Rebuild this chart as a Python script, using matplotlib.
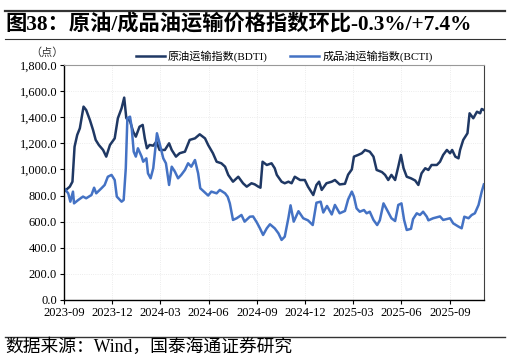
import numpy as np
import pandas as pd
import matplotlib
matplotlib.use("Agg")
import matplotlib.pyplot as plt
import matplotlib.dates as mdates
from matplotlib.ticker import FuncFormatter, MultipleLocator

plt.rcParams['font.family'] = ['Liberation Serif', 'Noto Sans CJK SC']

title = "图38：原油/成品油运输价格指数环比-0.3%/+7.4%"
source = "数据来源：Wind，国泰海通证券研究"
unit = "（点）"
bdti_name = "原油运输指数(BDTI)"
bcti_name = "成品油运输指数(BCTI)"

bdti_dates = [
    "2023-09-01", "2023-09-12", "2023-09-17", "2023-09-21", "2023-09-26", "2023-10-01",
    "2023-10-08", "2023-10-13", "2023-10-20", "2023-10-26", "2023-10-31", "2023-11-06",
    "2023-11-14", "2023-11-20", "2023-11-27", "2023-12-06", "2023-12-12", "2023-12-19",
    "2023-12-24", "2023-12-28", "2024-01-04", "2024-01-10", "2024-01-15", "2024-01-22",
    "2024-01-28", "2024-02-01", "2024-02-05", "2024-02-10", "2024-02-17", "2024-02-23",
    "2024-02-29", "2024-03-10", "2024-03-18", "2024-03-23", "2024-03-31", "2024-04-07",
    "2024-04-17", "2024-04-26", "2024-05-06", "2024-05-15", "2024-05-25", "2024-05-31",
    "2024-06-09", "2024-06-16", "2024-06-25", "2024-07-02", "2024-07-08", "2024-07-17",
    "2024-07-27", "2024-08-05", "2024-08-12", "2024-08-21", "2024-08-27", "2024-09-03",
    "2024-09-07", "2024-09-11", "2024-09-19", "2024-09-28", "2024-10-04", "2024-10-08",
    "2024-10-17", "2024-10-23", "2024-10-30", "2024-11-05", "2024-11-11", "2024-11-21",
    "2024-11-30", "2024-12-06", "2024-12-16", "2024-12-22", "2024-12-27", "2025-01-01",
    "2025-01-10", "2025-01-20", "2025-01-26", "2025-02-04", "2025-02-14", "2025-02-20",
    "2025-02-27", "2025-03-03", "2025-03-11", "2025-03-18", "2025-03-24", "2025-04-02",
    "2025-04-09", "2025-04-15", "2025-04-25", "2025-05-01", "2025-05-07", "2025-05-13",
    "2025-05-20", "2025-05-26", "2025-05-31", "2025-06-05", "2025-06-11", "2025-06-19",
    "2025-06-27", "2025-07-03", "2025-07-09", "2025-07-16", "2025-07-22", "2025-07-28",
    "2025-08-07", "2025-08-13", "2025-08-19", "2025-08-26", "2025-09-01", "2025-09-05",
    "2025-09-11", "2025-09-17", "2025-09-20", "2025-09-26", "2025-10-04", "2025-10-08",
    "2025-10-15", "2025-10-22", "2025-10-28", "2025-10-31", "2025-11-04",
]
bdti = [
    830, 868, 906, 1174, 1264, 1315,
    1481, 1455, 1379, 1302, 1226, 1187,
    1149, 1098, 1187, 1238, 1392, 1468,
    1550, 1392, 1370, 1289, 1251, 1327,
    1341, 1238, 1162, 1187, 1182, 1213,
    1149, 1149, 1200, 1149, 1098, 1124,
    1136, 1226, 1238, 1269, 1238, 1187,
    1124, 1059, 1047, 1021, 958, 906,
    944, 894, 868, 894, 886, 868,
    860, 1059, 1034, 1047, 1009, 958,
    906, 894, 906, 894, 944, 919,
    919, 868, 804, 881, 906, 843,
    894, 906, 919, 885, 890, 960,
    1000, 1098, 1111, 1124, 1149, 1136,
    1098, 996, 980, 958, 919, 958,
    919, 1021, 1111, 1009, 944, 932,
    915, 881, 970, 1009, 996, 1034,
    1034, 1059, 1111, 1149, 1124, 1149,
    1098, 1085, 1149, 1226, 1277, 1430,
    1392, 1442, 1430, 1463, 1455,
]

bcti_dates = [
    "2023-09-01", "2023-09-09", "2023-09-13", "2023-09-18", "2023-09-20", "2023-09-28",
    "2023-10-07", "2023-10-13", "2023-10-23", "2023-10-28", "2023-11-01", "2023-11-11",
    "2023-11-17", "2023-11-23", "2023-11-30", "2023-12-06", "2023-12-10", "2023-12-19",
    "2023-12-23", "2023-12-27", "2023-12-30", "2024-01-04", "2024-01-07", "2024-01-11",
    "2024-01-15", "2024-01-19", "2024-01-26", "2024-01-29", "2024-02-04", "2024-02-07",
    "2024-02-12", "2024-02-17", "2024-02-24", "2024-02-29", "2024-03-07", "2024-03-12",
    "2024-03-18", "2024-03-23", "2024-03-29", "2024-04-04", "2024-04-10", "2024-04-17",
    "2024-04-23", "2024-04-29", "2024-05-06", "2024-05-12", "2024-05-16", "2024-05-23",
    "2024-05-31", "2024-06-06", "2024-06-16", "2024-06-22", "2024-07-02", "2024-07-07",
    "2024-07-11", "2024-07-17", "2024-07-24", "2024-08-02", "2024-08-08", "2024-08-18",
    "2024-08-24", "2024-08-31", "2024-09-06", "2024-09-12", "2024-09-19", "2024-09-25",
    "2024-10-04", "2024-10-11", "2024-10-17", "2024-10-23", "2024-10-30", "2024-11-03",
    "2024-11-09", "2024-11-18", "2024-11-27", "2024-12-06", "2024-12-15", "2024-12-22",
    "2024-12-30", "2025-01-04", "2025-01-11", "2025-01-20", "2025-01-26", "2025-02-04",
    "2025-02-14", "2025-02-20", "2025-02-27", "2025-03-03", "2025-03-08", "2025-03-14",
    "2025-03-22", "2025-03-27", "2025-04-02", "2025-04-09", "2025-04-16", "2025-04-21",
    "2025-04-28", "2025-05-04", "2025-05-13", "2025-05-20", "2025-05-26", "2025-06-01",
    "2025-06-06", "2025-06-11", "2025-06-19", "2025-06-23", "2025-06-30", "2025-07-06",
    "2025-07-12", "2025-07-19", "2025-07-22", "2025-07-31", "2025-08-13", "2025-08-19",
    "2025-09-01", "2025-09-07", "2025-09-17", "2025-09-23", "2025-09-28", "2025-10-06",
    "2025-10-12", "2025-10-18", "2025-10-25", "2025-10-31", "2025-11-04",
]
bcti = [
    856, 817, 753, 830, 740, 766,
    792, 779, 804, 860, 817, 856,
    881, 944, 958, 919, 792, 753,
    766, 1009, 1392, 1404, 1327, 1136,
    1098, 1162, 1098, 1059, 1085, 970,
    932, 1009, 1277, 1200, 1085, 1047,
    881, 1021, 983, 932, 958, 996,
    1047, 1021, 1072, 970, 856, 830,
    800, 830, 817, 843, 817, 790,
    740, 613, 626, 651, 600, 638,
    640, 595, 549, 498, 549, 580,
    549, 511, 460, 485, 630, 725,
    600, 680, 626, 610, 574, 745,
    753, 670, 720, 655, 728, 664,
    682, 770, 830, 792, 702, 676,
    689, 664, 676, 613, 574, 610,
    740, 695, 626, 605, 728, 740,
    613, 536, 545, 620, 664, 651,
    676, 638, 610, 626, 640, 613,
    626, 587, 562, 549, 638, 626,
    651, 664, 728, 830, 885,
]

xticks = ["2023-09", "2023-12", "2024-03", "2024-06", "2024-09",
          "2024-12", "2025-03", "2025-06", "2025-09"]

dark = "#1f3864"
blue = "#4472c4"

fig = plt.figure(figsize=(5.12, 3.63), dpi=100)
ax = fig.add_axes([0.125, 0.1736, 0.82, 0.6474])

ax.plot(pd.to_datetime(bdti_dates), bdti, color=dark, lw=1.8, label=bdti_name)
ax.plot(pd.to_datetime(bcti_dates), bcti, color=blue, lw=1.8, label=bcti_name)

ax.set_ylim(0, 1800)
ax.yaxis.set_major_locator(MultipleLocator(200))
ax.yaxis.set_major_formatter(FuncFormatter(lambda v, p: f"{v:,.1f}"))
ax.set_xlim(pd.Timestamp("2023-09-01"), pd.Timestamp("2025-11-04"))
ax.set_xticks(pd.to_datetime(xticks))
ax.xaxis.set_major_formatter(mdates.DateFormatter("%Y-%m"))
ax.tick_params(labelsize=9, length=3, width=0.8, colors="black", pad=2)

ax.grid(True, color="#e6e6e6", lw=0.6, ls=":")
ax.set_axisbelow(True)
for s in ["left", "bottom"]:
    ax.spines[s].set_color("black")
    ax.spines[s].set_linewidth(1.0)
ax.spines["right"].set_color("#404040")
ax.spines["top"].set_color("#999999")

ax.legend(loc="lower left", bbox_to_anchor=(0.155, 0.985), ncol=2, frameon=False,
          fontsize=8, handlelength=2.6, handletextpad=0.3, columnspacing=2.0,
          borderaxespad=0.2)

fig.text(0.06, 0.855, unit, fontsize=8, va="center", color="#333333")
fig.text(0.01, 0.934, title, fontsize=15.3, fontweight="bold", va="center")
fig.text(0.01, 0.044, source, fontsize=12.8, va="center")

fig.add_artist(plt.Line2D([0.01, 0.987], [0.970, 0.970], color="#333333", lw=1.6))
fig.add_artist(plt.Line2D([0.01, 0.987], [0.893, 0.893], color="#333333", lw=0.8))
fig.add_artist(plt.Line2D([0.01, 0.987], [0.073, 0.073], color="#333333", lw=1.0))

fig.savefig("out.png", dpi=100)
